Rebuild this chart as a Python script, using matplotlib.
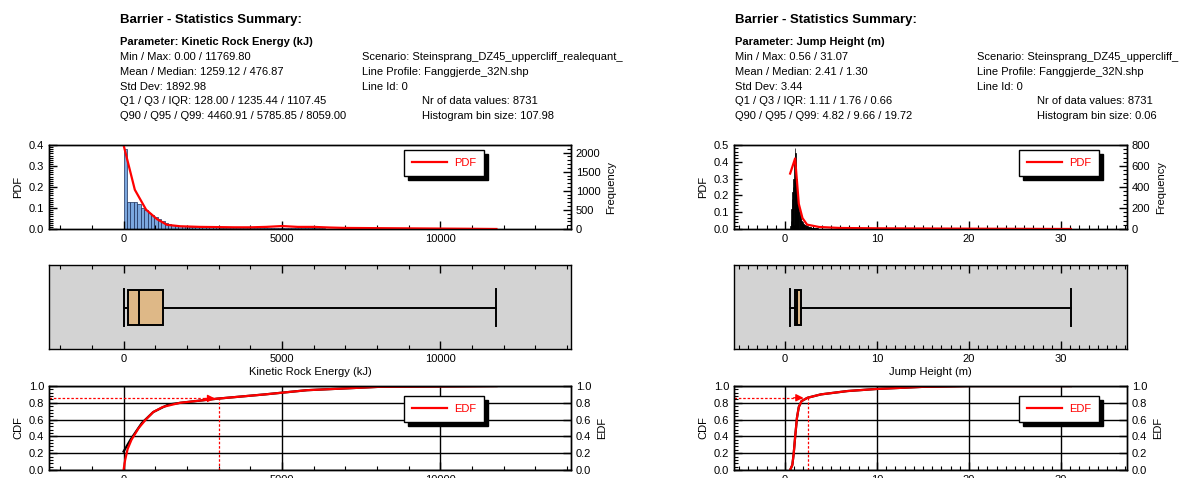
import matplotlib
matplotlib.use('Agg')
import matplotlib.pyplot as plt
from matplotlib.ticker import MultipleLocator

plt.rcParams['font.family'] = ['Liberation Sans', 'DejaVu Sans']
plt.rcParams['font.size'] = 8

W, H = 1198, 478

# ---------------- data: Kinetic Rock Energy ----------------
ke_param = 'Parameter: Kinetic Rock Energy (kJ)'
ke_label = 'Kinetic Rock Energy (kJ)'
ke_lines = ['Min / Max: 0.00 / 11769.80',
            'Mean / Median: 1259.12 / 476.87',
            'Std Dev: 1892.98',
            'Q1 / Q3 / IQR: 128.00 / 1235.44 / 1107.45',
            'Q90 / Q95 / Q99: 4460.91 / 5785.85 / 8059.00']
ke_info = ['Scenario: Steinsprang_DZ45_uppercliff_realequant_',
           'Line Profile: Fanggjerde_32N.shp',
           'Line Id: 0']
ke_info2 = ['Nr of data values: 8731', 'Histogram bin size: 107.98']
ke_min, ke_q1, ke_med, ke_q3, ke_max = 0.0, 128.00, 476.87, 1235.44, 11769.80
ke_bin = 107.98
ke_counts = [2100, 700, 700, 700, 663, 552, 497, 414, 359, 304, 249, 221, 166, 138,
             110, 94, 83, 72, 66, 61, 55, 52, 50, 48, 46, 44, 42, 40, 38, 37, 36, 35,
             34, 33, 32, 31, 30, 30, 29, 29, 28, 28, 27, 27, 26, 26, 26, 25, 25, 25,
             24, 24, 23, 22, 21, 20, 18, 16, 14, 12]
ke_pdf_x = [0, 355, 711, 1055, 1368, 1786, 2414, 3000, 3500, 4000, 4500, 5000, 5500,
            6000, 6500, 7000, 8000, 9000, 10000, 11000, 11770]
ke_pdf_y = [0.4, 0.187, 0.092, 0.047, 0.02, 0.013, 0.01, 0.009, 0.008, 0.008, 0.01,
            0.014, 0.01, 0.01, 0.007, 0.005, 0.004, 0.003, 0.002, 0.001, 0.0]
ke_cdf_x = [0, 216, 577, 937, 1418, 1800, 2980, 4461, 5786, 8059, 11770]
ke_cdf_y = [0.22, 0.36, 0.56, 0.69, 0.78, 0.80, 0.85, 0.90, 0.95, 0.99, 1.0]
ke_edf_x = [0, 50, 128, 250, 477, 700, 937, 1235, 1780, 2980, 4461, 5786, 8059, 11770]
ke_edf_y = [0, 0.12, 0.25, 0.36, 0.5, 0.6, 0.69, 0.75, 0.80, 0.85, 0.90, 0.95, 0.99, 1.0]
ke_mark_x, ke_mark_y = 3017, 0.852

# ---------------- data: Jump Height ----------------
jh_param = 'Parameter: Jump Height (m)'
jh_label = 'Jump Height (m)'
jh_lines = ['Min / Max: 0.56 / 31.07',
            'Mean / Median: 2.41 / 1.30',
            'Std Dev: 3.44',
            'Q1 / Q3 / IQR: 1.11 / 1.76 / 0.66',
            'Q90 / Q95 / Q99: 4.82 / 9.66 / 19.72']
jh_info = ['Scenario: Steinsprang_DZ45_uppercliff_',
           'Line Profile: Fanggjerde_32N.shp',
           'Line Id: 0']
jh_info2 = ['Nr of data values: 8731', 'Histogram bin size: 0.06']
jh_min, jh_q1, jh_med, jh_q3, jh_max = 0.56, 1.11, 1.30, 1.76, 31.07
jh_bin = 0.06
jh_counts = [32, 80, 190, 290, 350, 400, 480, 640, 768, 720, 610, 480, 385, 305, 240,
             190, 160, 135, 112, 96, 80, 72, 64, 56, 48, 45, 40, 35, 32, 29, 26, 24, 22,
             21, 19, 18, 16, 15, 14, 13, 12, 11, 10, 9, 8, 8, 7, 7, 6, 6]
jh_pdf_x = [0.56, 1.1, 1.5, 1.9, 2.4, 3.7, 6, 10, 20, 31.07]
jh_pdf_y = [0.33, 0.42, 0.15, 0.065, 0.026, 0.012, 0.006, 0.004, 0.002, 0.0]
jh_cdf_x = [0.56, 0.8, 0.95, 1.11, 1.3, 1.5, 1.8, 2.45, 3.9, 6.8, 10, 15, 20, 31.07]
jh_cdf_y = [0.0, 0.06, 0.2, 0.4, 0.62, 0.75, 0.82, 0.86, 0.90, 0.94, 0.965, 0.99, 1.0, 1.0]
jh_edf_x = jh_cdf_x
jh_edf_y = jh_cdf_y
jh_mark_x, jh_mark_y = 2.45, 0.86


def fx(px):
    return px / W


def fy(py):
    return 1 - py / H


def ticks_in(ax, which_axis='both', **kw):
    ax.tick_params(axis=which_axis, which='major', direction='in', length=6, width=1, **kw)
    ax.tick_params(axis=which_axis, which='minor', direction='in', length=3, width=0.8, **kw)


def legend(ax, handle, text, x0, y0):
    ax.legend([handle], [text], loc='upper left', bbox_to_anchor=(x0, y0),
              borderaxespad=0, fancybox=False, edgecolor='black', framealpha=1,
              labelcolor='red', handlelength=3.2, borderpad=0.7, handletextpad=0.6,
              shadow={'color': 'black', 'alpha': 1, 'ox': 3, 'oy': -3})


def panel(x0, x1, tx, info_x, info2_x, param, lines, info, info2, xlabel,
          vmin, q1, med, q3, vmax, bin_size, counts, pdf_x, pdf_y,
          cdf_x, cdf_y, edf_x, edf_y, mark_x, mark_y,
          pdf_top, pdf_minor, freq_top, freq_major, freq_minor,
          x_major, x_minor, bar_face, bar_edge, leg_x):
    fig.text(fx(tx), fy(20), 'Barrier - Statistics Summary:', fontsize=9.5,
             fontweight='bold', va='center')
    fig.text(fx(tx), fy(42), param, fontweight='bold', va='center')
    ys = [57, 72, 86.5, 101, 116]
    for y, s in zip(ys, lines):
        fig.text(fx(tx), fy(y), s, va='center')
    for y, s in zip(ys[:3], info):
        fig.text(fx(info_x), fy(y), s, va='center')
    for y, s in zip(ys[3:], info2):
        fig.text(fx(info2_x), fy(y), s, va='center')

    rng = vmax - vmin
    xlim = (vmin - 0.2 * rng, vmax + 0.2 * rng)
    w = fx(x1 - x0)
    hh = 84 / H

    # PDF + histogram
    ax = fig.add_axes([fx(x0), fy(229), w, hh])
    axf = ax.twinx()
    starts = [vmin + i * bin_size for i in range(len(counts))]
    axf.bar(starts, counts, width=bin_size, align='edge', color=bar_face,
            edgecolor=bar_edge, linewidth=0.5)
    axf.set_ylim(0, freq_top)
    axf.yaxis.set_major_locator(MultipleLocator(freq_major))
    axf.yaxis.set_minor_locator(MultipleLocator(freq_minor))
    axf.set_ylabel('Frequency')
    ticks_in(axf, 'y')
    ax.set_zorder(axf.get_zorder() + 1)
    ax.patch.set_visible(False)
    pdf_line, = ax.plot(pdf_x, pdf_y, color='red', lw=1.6)
    ax.set_xlim(xlim)
    ax.set_ylim(0, pdf_top)
    ax.yaxis.set_major_locator(MultipleLocator(0.1))
    ax.yaxis.set_minor_locator(MultipleLocator(pdf_minor))
    ax.xaxis.set_major_locator(MultipleLocator(x_major))
    ax.xaxis.set_minor_locator(MultipleLocator(x_minor))
    ax.set_ylabel('PDF')
    ticks_in(ax)
    legend(ax, pdf_line, 'PDF', leg_x, 0.94)

    # box plot
    axb = fig.add_axes([fx(x0), fy(349), w, hh])
    axb.set_facecolor('#d3d3d3')
    stats = [{'whislo': vmin, 'q1': q1, 'med': med, 'q3': q3, 'whishi': vmax,
              'fliers': []}]
    axb.bxp(stats, positions=[0.49], widths=0.42, capwidths=0.44,
            orientation='horizontal', patch_artist=True, showfliers=False,
            boxprops={'facecolor': '#deb887', 'edgecolor': 'black', 'linewidth': 1.4},
            medianprops={'color': 'black', 'linewidth': 1.4},
            whiskerprops={'color': 'black', 'linewidth': 1.4},
            capprops={'color': 'black', 'linewidth': 1.4})
    axb.set_ylim(0, 1)
    axb.set_yticks([])
    axb.set_xlim(xlim)
    axb.xaxis.set_major_locator(MultipleLocator(x_major))
    axb.xaxis.set_minor_locator(MultipleLocator(x_minor))
    axb.tick_params(axis='x', which='both', top=True)
    ticks_in(axb, 'x')
    axb.set_xlabel(xlabel, labelpad=2)

    # CDF / EDF
    axc = fig.add_axes([fx(x0), fy(470), w, hh])
    axe = axc.twinx()
    axc.plot(cdf_x, cdf_y, color='black', lw=1.6)
    edf_line, = axc.plot(edf_x, edf_y, color='red', lw=1.6)
    axc.hlines(mark_y, xlim[0], mark_x, color='red', lw=0.9, linestyles=(0, (2, 1.5)))
    axc.vlines(mark_x, 0, mark_y, color='red', lw=0.9, linestyles=(0, (2, 1.5)))
    axc.annotate('', xy=(mark_x, mark_y), xytext=(-10, 0), textcoords='offset points',
                 arrowprops=dict(arrowstyle='-|>', color='red', lw=0.9,
                                 mutation_scale=11, shrinkA=0, shrinkB=3))
    axc.set_xlim(xlim)
    axc.set_ylim(0, 1)
    axc.yaxis.set_major_locator(MultipleLocator(0.2))
    axc.yaxis.set_minor_locator(MultipleLocator(0.04))
    axc.xaxis.set_major_locator(MultipleLocator(x_major))
    axc.xaxis.set_minor_locator(MultipleLocator(x_minor))
    axc.grid(True, which='major', color='black', lw=1)
    axc.set_ylabel('CDF')
    ticks_in(axc)
    axe.set_ylim(0, 1)
    axe.yaxis.set_major_locator(MultipleLocator(0.2))
    axe.set_ylabel('EDF')
    ticks_in(axe, 'y')
    legend(axe, edf_line, 'EDF', leg_x, 0.88)
    for a in (ax, axf, axb, axc, axe):
        for sp in a.spines.values():
            sp.set_linewidth(1)


fig = plt.figure(figsize=(W / 100, H / 100), dpi=100)

panel(49, 571, 120, 362, 422, ke_param, ke_lines, ke_info, ke_info2, ke_label,
      ke_min, ke_q1, ke_med, ke_q3, ke_max, ke_bin, ke_counts, ke_pdf_x, ke_pdf_y,
      ke_cdf_x, ke_cdf_y, ke_edf_x, ke_edf_y, ke_mark_x, ke_mark_y,
      0.4, 0.01, 2200, 500, 100, 5000, 1000, '#7ba7de', '#1c2f5a', 0.68)

panel(734, 1127, 735, 977, 1037, jh_param, jh_lines, jh_info, jh_info2, jh_label,
      jh_min, jh_q1, jh_med, jh_q3, jh_max, jh_bin, jh_counts, jh_pdf_x, jh_pdf_y,
      jh_cdf_x, jh_cdf_y, jh_edf_x, jh_edf_y, jh_mark_x, jh_mark_y,
      0.5, 0.02, 800, 200, 40, 10, 1, 'black', 'black', 0.725)

fig.savefig('out.png', dpi=100)
